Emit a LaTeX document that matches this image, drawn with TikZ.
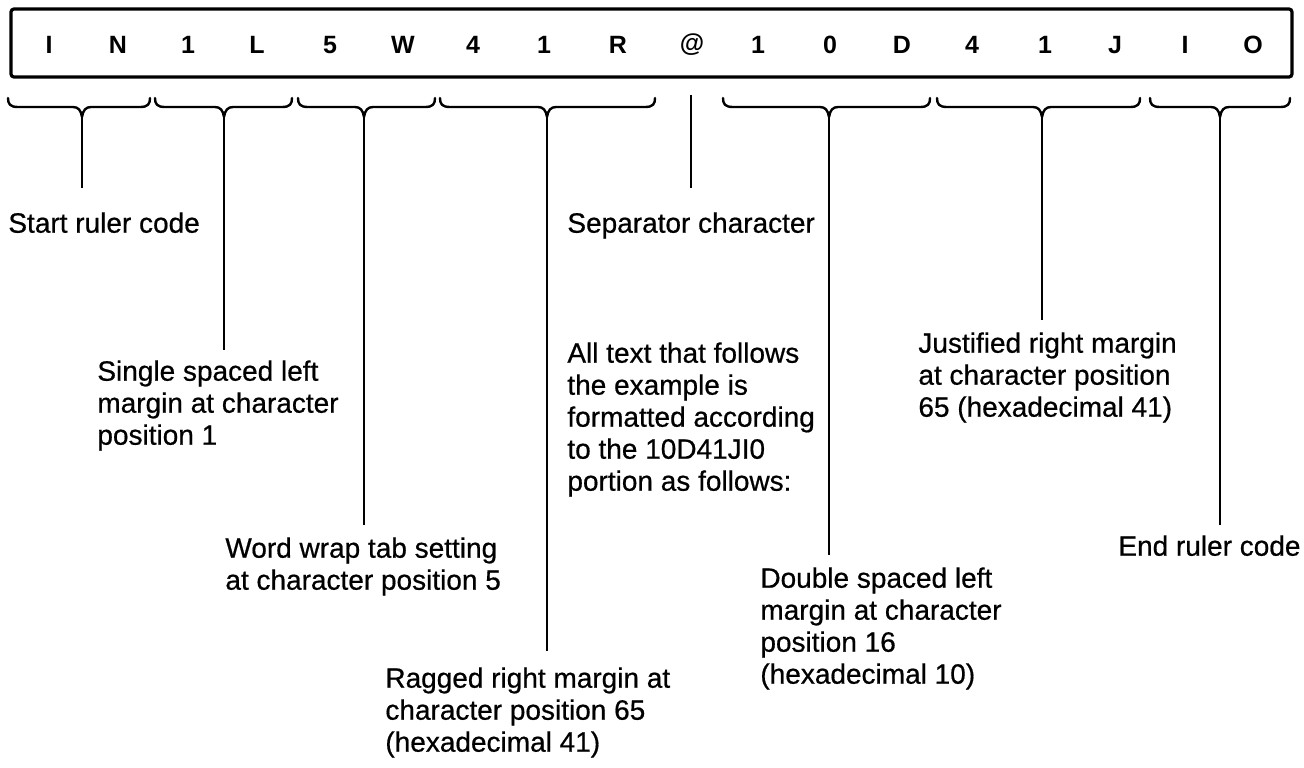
\documentclass[tikz,border=0pt]{standalone}
\usepackage{fontspec}
\setmainfont{Liberation Sans}
\newfontfamily\labfont[FakeBold=0.6]{Liberation Sans}
\newcommand\rulerbrace[3]{%
  \draw[brc] (#1,98) .. controls (#1,104) and (#1+2,107) .. (#1+10,107)
    -- (#2-9,107) .. controls (#2-4,107) and (#2-1,110) .. (#2,117)
    .. controls (#2+1,110) and (#2+4,107) .. (#2+9,107)
    -- (#3-10,107) .. controls (#3-2,107) and (#3,104) .. (#3,98);}
\begin{document}
\begin{tikzpicture}[x=0.5pt,y=-0.5pt,
  lab/.style={anchor=north west, inner sep=0pt, align=left, font=\labfont\fontsize{14}{16}\selectfont},
  ch/.style={font=\fontsize{12.5}{14}\selectfont\bfseries, inner sep=0pt},
  lead/.style={line width=0.8pt},
  brc/.style={line width=1.2pt, line cap=round, line join=round}]
\useasboundingbox (0,0) rectangle (1304,767);
% ruler box
\node (box) [draw, line width=1.6pt, rounded corners=1.5pt, minimum width=640.5pt,
  minimum height=34pt, inner sep=0pt, outer sep=0pt] at (651.5,43) {};
\foreach \c/\x [count=\i] in {I/49, N/118, 1/188, L/257, 5/330, W/403, 4/473, 1/544, R/618,
  @/692, 1/758, 0/830, D/902, 4/972, 1/1045, J/1115, I/1185, O/1253}
  \node[ch] (c\i) at (\x,45) {\c};
% braces
\rulerbrace{8}{82}{150}
\rulerbrace{155}{224}{292}
\rulerbrace{298}{364}{435}
\rulerbrace{440}{547}{655}
\rulerbrace{723}{829}{930}
\rulerbrace{937}{1042}{1140}
\rulerbrace{1150}{1220}{1290}
\coordinate (tA) at (82,117);
\coordinate (tB) at (224,117);
\coordinate (tC) at (364,117);
\coordinate (tD) at (547,117);
\coordinate (tS) at (691,95);
\coordinate (tE) at (829,117);
\coordinate (tF) at (1042,117);
\coordinate (tG) at (1220,117);
% labels
\node[lab] (lA) at (8,212) {Start ruler code};
\node[lab] (lB) at (97,360) {Single spaced left\\margin at character\\position 1};
\node[lab] (lC) at (225,537) {Word wrap tab setting\\at character position 5};
\node[lab] (lD) at (385,667) {Ragged right margin at\\character position 65\\(hexadecimal 41)};
\node[lab] (lS) at (567,212) {Separator character};
\node[lab] (lT) at (567,342) {All text that follows\\the example is\\formatted according\\to the 10D41JI0\\portion as follows:};
\node[lab] (lE) at (760,567) {Double spaced left\\margin at character\\position 16\\(hexadecimal 10)};
\node[lab] (lF) at (918,332) {Justified right margin\\at character position\\65 (hexadecimal 41)};
\node[lab] (lG) at (1118,535) {End ruler code};
% leaders
\draw[lead, shorten >=12pt] (tA) -- (tA |- lA.north);
\draw[lead, shorten >=5pt] (tB) -- (tB |- lB.north);
\draw[lead, shorten >=6pt] (tC) -- (tC |- lC.north);
\draw[lead, shorten >=8pt] (tD) -- (tD |- lD.north);
\draw[lead, shorten >=12pt] (tS) -- (tS |- lS.north);
\draw[lead, shorten >=6pt] (tE) -- (tE |- lE.north);
\draw[lead, shorten >=6pt] (tF) -- (tF |- lF.north);
\draw[lead, shorten >=5pt] (tG) -- (tG |- lG.north);
\end{tikzpicture}
\end{document}
